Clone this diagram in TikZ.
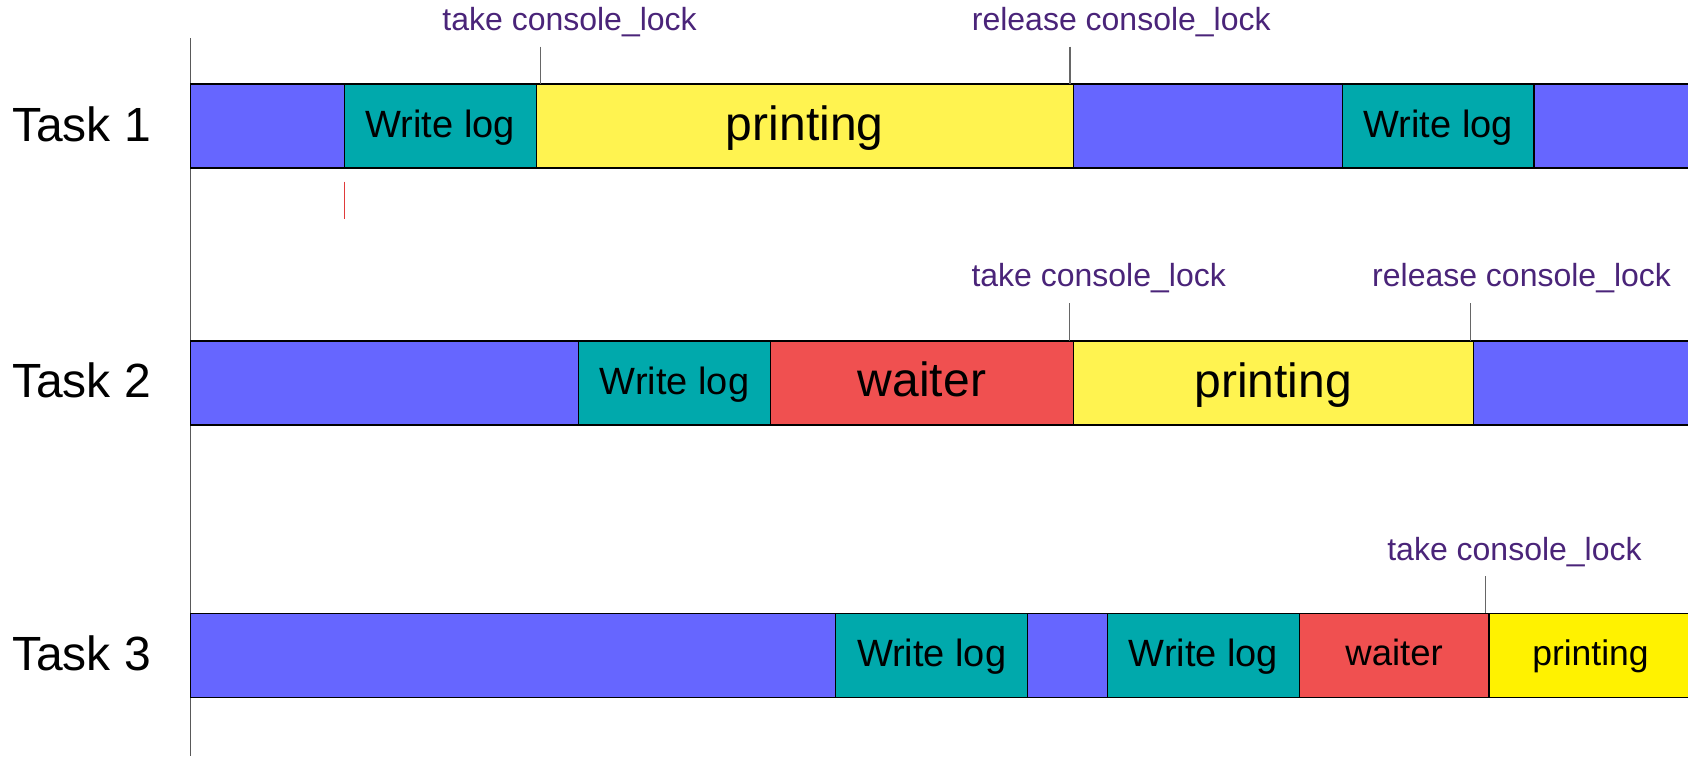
\documentclass[tikz,border=0pt]{standalone}
\usepackage{fontspec}
\setmainfont{Liberation Sans}
\definecolor{cblue}{HTML}{6666FF}
\definecolor{cteal}{HTML}{00A9AC}
\definecolor{cyel}{HTML}{FFF350}
\definecolor{cyelb}{HTML}{FFF200}
\definecolor{cred}{HTML}{F05050}
\definecolor{cpurp}{HTML}{4A2479}
\definecolor{cmark}{HTML}{E03A3A}
\begin{document}
\begin{tikzpicture}[x=1pt,y=-1pt,
  seg/.style={draw=black, line width=1.1pt, inner sep=0pt, outer sep=0pt,
    minimum height=84pt, anchor=north west},
  bluebox/.style={seg, fill=cblue},
  logbox/.style={seg, fill=cteal, font=\fontsize{38}{40}\selectfont,
    text height=30.6pt, text depth=8pt},
  printbox/.style={seg, fill=cyel, font=\fontsize{48}{50}\selectfont,
    text height=38pt, text depth=10pt},
  waitbox/.style={seg, fill=cred, font=\fontsize{48}{50}\selectfont,
    text height=37.4pt, text depth=10pt},
  smallfont/.style={text height=29.4pt, text depth=10pt},
  lock/.style={inner sep=0pt, anchor=base, text=cpurp, font=\fontsize{32}{34}\selectfont},
  task/.style={inner sep=0pt, anchor=base west, font=\fontsize{48}{50}\selectfont},
  tick/.style={draw=black!60, line width=1.2pt},
  axisline/.style={draw=black!65, line width=1.5pt},
  marker/.style={draw=cmark, line width=1pt}]
\useasboundingbox (0,0) rectangle (1688,756);

% time axis
\coordinate (ax0) at (190.7,38);
\coordinate (ax1) at (190.7,756);
\draw[axisline] (ax0) -- (ax1);

% task labels
\node[task] (task1) at (12,141) {Task 1};
\node[task] (task2) at (12,397.5) {Task 2};
\node[task] (task3) at (12,670) {Task 3};

% Task 1 bar
\node[bluebox, minimum width=153.8pt] (b1a) at (190.7,84) {};
\node[logbox, minimum width=191.6pt] (b1b) at (344.5,84) {Write log};
\node[printbox, minimum width=537.2pt] (b1c) at (536.1,84) {printing};
\node[bluebox, minimum width=269.1pt] (b1d) at (1073.3,84) {};
\node[logbox, minimum width=191.6pt] (b1e) at (1342.4,84) {Write log};
\node[bluebox, minimum width=158pt] (b1f) at (1534,84) {};

% Task 2 bar
\node[bluebox, minimum width=387.8pt] (b2a) at (190.7,341) {};
\node[logbox, minimum width=192.2pt] (b2b) at (578.5,341) {Write log};
\node[waitbox, minimum width=302.6pt] (b2c) at (770.7,341) {waiter};
\node[printbox, minimum width=400pt] (b2d) at (1073.3,341) {printing};
\node[bluebox, minimum width=218.7pt] (b2e) at (1473.3,341) {};

% Task 3 bar
\node[bluebox, minimum width=644.8pt] (b3a) at (190.7,613.3) {};
\node[logbox, minimum width=192.3pt] (b3b) at (835.5,613.3) {Write log};
\node[bluebox, minimum width=79.8pt] (b3c) at (1027.8,613.3) {};
\node[logbox, minimum width=191.7pt] (b3d) at (1107.6,613.3) {Write log};
\node[waitbox, font=\fontsize{36.5}{38}\selectfont, smallfont, minimum width=189.7pt] (b3e) at (1299.3,613.3) {waiter};
\node[seg, fill=cyelb, font=\fontsize{35.5}{37}\selectfont, smallfont, minimum width=203pt] (b3f) at (1489,613.3) {printing};

% lock labels
\node[lock] (l1a) at (569.6,30) {take console\_lock};
\node[lock] (l1b) at (1121.3,30) {release console\_lock};
\node[lock] (l2a) at (1098.7,286.7) {take console\_lock};
\node[lock] (l2b) at (1521.6,286.7) {release console\_lock};
\node[lock] (l3a) at (1514.5,560.7) {take console\_lock};

% ticks
\coordinate (t1a) at (540.4,46.7);
\coordinate (t1b) at (1070,46.7);
\coordinate (t2a) at (1069.5,303.3);
\coordinate (t2b) at (1470.7,303.3);
\coordinate (t3a) at (1485.7,576);
\draw[tick] (t1a) -- (t1a |- b1c.north);
\draw[tick] (t1b) -- (t1b |- b1c.north);
\draw[tick] (t2a) -- (t2a |- b2d.north);
\draw[tick] (t2b) -- (t2b |- b2d.north);
\draw[tick] (t3a) -- (t3a |- b3f.north);

% red marker
\coordinate (m0) at (344.5,181.7);
\coordinate (m1) at (344.5,219.3);
\draw[marker] (m0) -- (m1);
\end{tikzpicture}
\end{document}
